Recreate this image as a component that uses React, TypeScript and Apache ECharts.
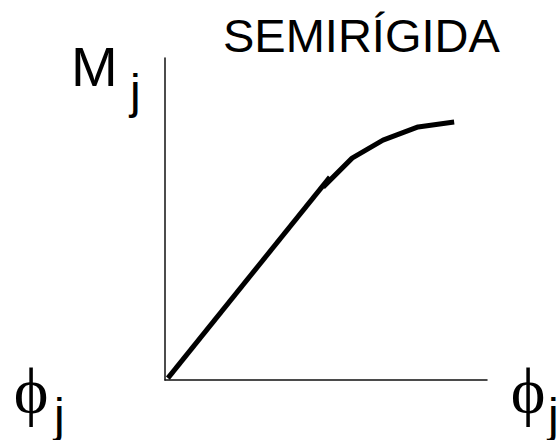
import React, { useEffect, useRef } from "react";
import * as echarts from "echarts";

const titleText = "SEMIRÍGIDA";
const yLabelMain = "M";
const xLabelMain = "\u03D5";
const subLabel = "j";

// elastic (linear) branch
const linearX = [0.9, 51.2];
const linearY = [0.6, 63.0];
// non-linear branch
const curveX = [49.1, 58.1, 67.7, 78.6, 89.8];
const curveY = [59.9, 68.9, 74.5, 78.6, 80.1];

const toPairs = (xs: number[], ys: number[]) => xs.map((x, i) => [x, ys[i]]);

export default function App() {
  const ref = useRef<HTMLDivElement>(null);
  useEffect(() => {
    if (!ref.current) return;
    const chart = echarts.init(ref.current, null, { renderer: "svg" });
    const sans = "Liberation Sans, Arial, sans-serif";
    const serif = "Liberation Serif, Times New Roman, serif";
    const axisCommon = {
      type: "value" as const,
      min: 0,
      max: 100,
      axisLine: { show: true, onZero: false, lineStyle: { color: "#111", width: 1.5 } },
      axisTick: { show: false },
      axisLabel: { show: false },
      splitLine: { show: false },
    };
    chart.setOption({
      animation: false,
      backgroundColor: "#ffffff",
      grid: { left: 165, right: 73, top: 58, bottom: 60 },
      xAxis: axisCommon,
      yAxis: axisCommon,
      series: [
        {
          type: "line",
          data: toPairs(linearX, linearY),
          showSymbol: false,
          lineStyle: { color: "#000", width: 5, cap: "butt" },
        },
        {
          type: "line",
          data: toPairs(curveX, curveY),
          showSymbol: false,
          lineStyle: { color: "#000", width: 5, cap: "butt", join: "round" },
        },
      ],
      graphic: [
        {
          type: "text",
          x: 223,
          y: 12,
          style: { text: titleText, font: `47px ${sans}`, fill: "#000", verticalAlign: "top" },
        },
        {
          type: "text",
          x: 71,
          y: 38,
          style: { text: yLabelMain, font: `56px ${sans}`, fill: "#000", verticalAlign: "top" },
        },
        {
          type: "text",
          x: 130,
          y: 67,
          style: { text: subLabel, font: `48px ${sans}`, fill: "#000", verticalAlign: "top" },
        },
        {
          type: "text",
          x: 31,
          y: 357,
          style: { text: xLabelMain, font: `66px ${serif}`, fill: "#000", align: "center", verticalAlign: "top" },
        },
        {
          type: "text",
          x: 54,
          y: 391,
          style: { text: subLabel, font: `48px ${sans}`, fill: "#000", verticalAlign: "top" },
        },
        {
          type: "text",
          x: 528,
          y: 357,
          style: { text: xLabelMain, font: `66px ${serif}`, fill: "#000", align: "center", verticalAlign: "top" },
        },
        {
          type: "text",
          x: 548,
          y: 391,
          style: { text: subLabel, font: `48px ${sans}`, fill: "#000", verticalAlign: "top" },
        },
      ],
    });
    return () => chart.dispose();
  }, []);
  return <div ref={ref} style={{ width: 560, height: 440, position: "absolute", left: 0, top: 0 }} />;
}
